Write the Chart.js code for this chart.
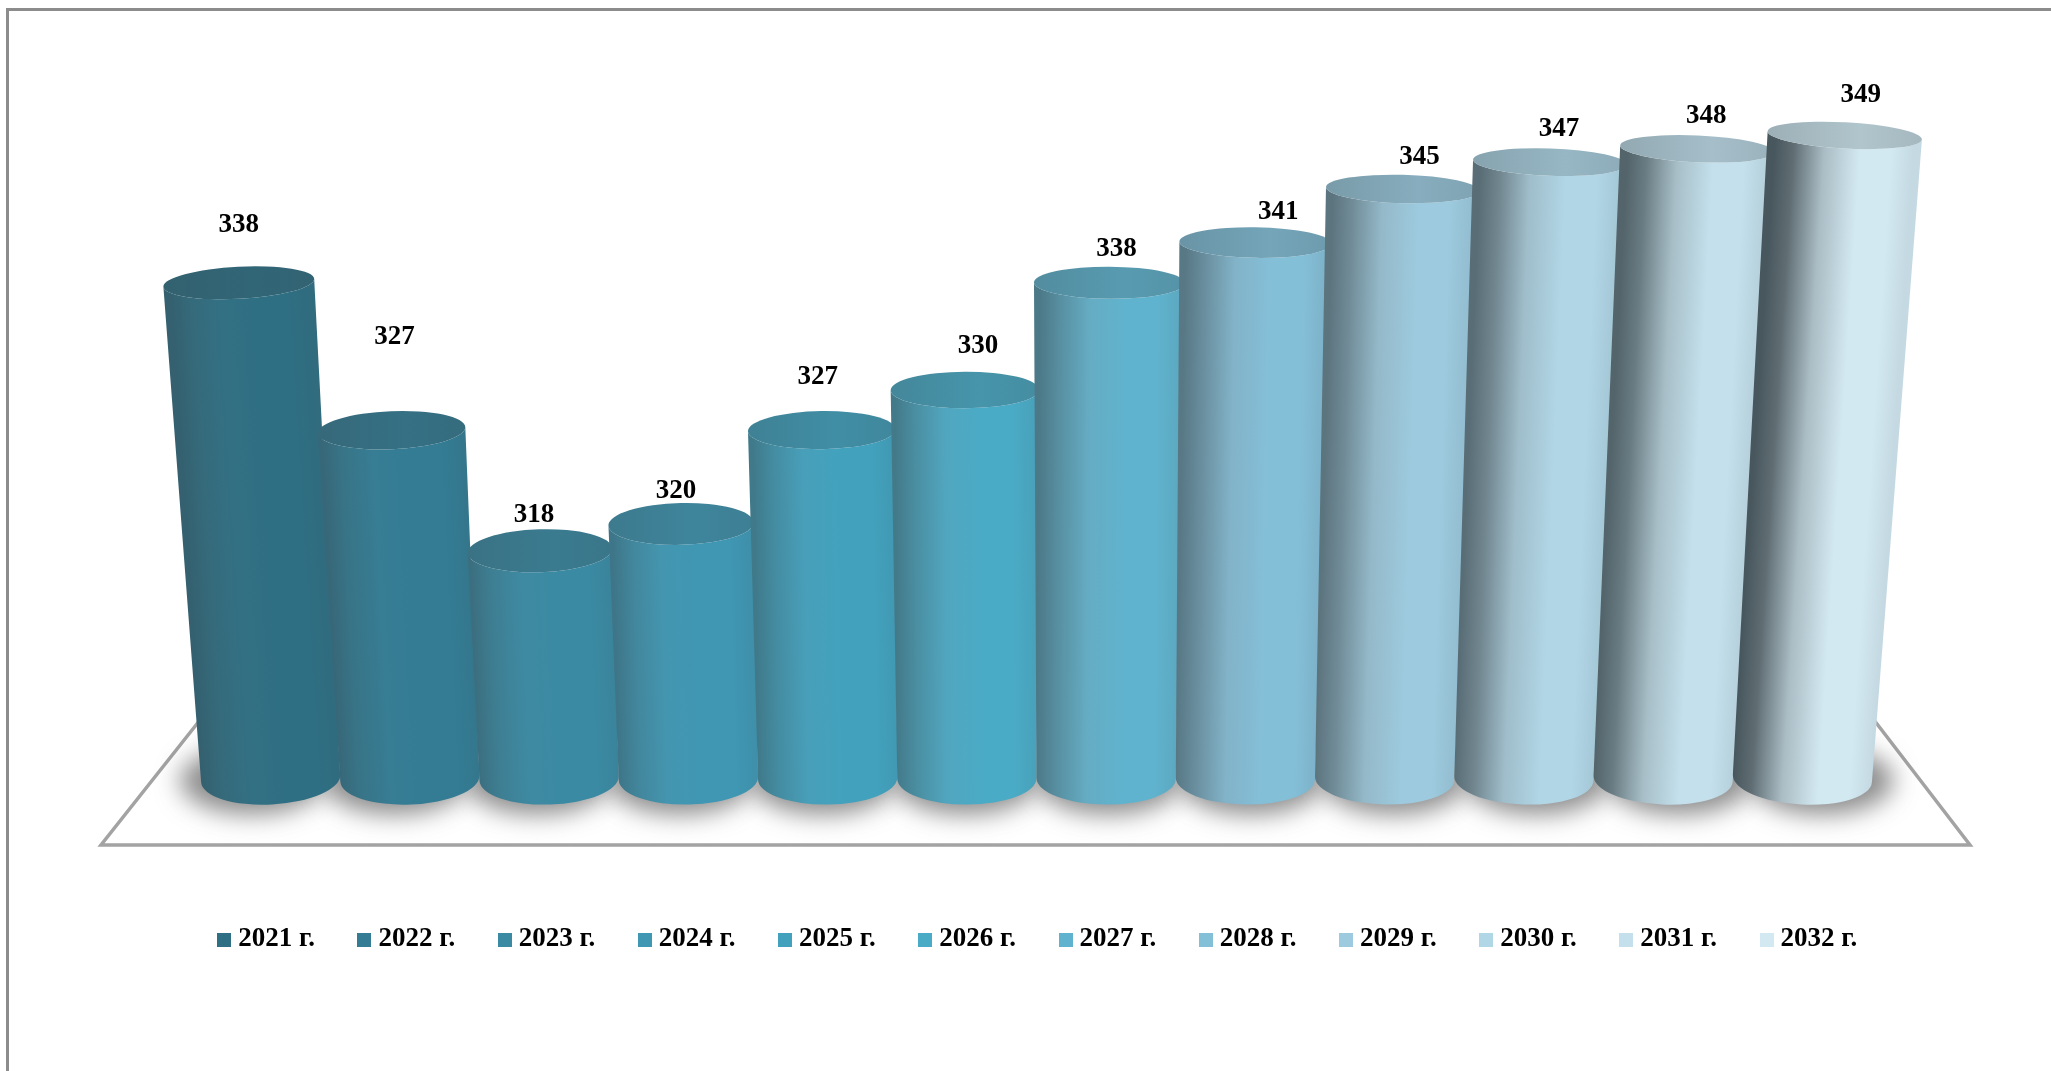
<!DOCTYPE html>
<html>
<head>
<meta charset="utf-8">
<title>2021-2032</title>
<script src="https://cdn.jsdelivr.net/npm/chart.js@4"></script>
<style>
	html, body { margin: 0; padding: 0; background: #fff; }
	#wrap { width: 2051px; height: 1071px; }
</style>
</head>
<body>
<div id="wrap"><canvas id="myChart"></canvas></div>
<script>
	var years = ["2021 г.", "2022 г.", "2023 г.", "2024 г.", "2025 г.", "2026 г.", "2027 г.", "2028 г.", "2029 г.", "2030 г.", "2031 г.", "2032 г."];
	var values = [338, 327, 318, 320, 327, 330, 338, 341, 345, 347, 348, 349];
	var barColors = ["#2f6f83", "#337c94", "#3a8aa3", "#3f97b3", "#42a2be", "#4aabc6", "#60b3ce", "#84bfd8", "#9dcade", "#b1d6e6", "#c3e0ec", "#d3e9f2"];
	// where each number sits relative to the top of its cylinder
	var labelShiftX = [0, 3, -6, -5, -4, 13, 7, 23, 17, 9, 9, 16];
	var labelShiftY = [-58, -93, -36, -33, -53, -44, -34, -31, -32, -33, -33, -40];

	var FONT = '"Liberation Serif", "Times New Roman", serif';
	var LEAN = 8.5e-5;    // how much the cylinders fan out with height
	var WIDEN = 1.7e-4;   // and how much wider they get towards the top
	var TILT = 0.052 / 760;

	function mix(hex, other, t) {
		var a = parseInt(hex.slice(1), 16), b = parseInt(other.slice(1), 16);
		var r = (a >> 16) + ((b >> 16) - (a >> 16)) * t;
		var g = ((a >> 8) & 255) + (((b >> 8) & 255) - ((a >> 8) & 255)) * t;
		var bl = (a & 255) + ((b & 255) - (a & 255)) * t;
		return "rgb(" + Math.round(r) + "," + Math.round(g) + "," + Math.round(bl) + ")";
	}

	function cylinder(bar, area) {
		var mid = (area.left + area.right) / 2 - 10;
		var h = bar.base - bar.y;
		var d = bar.x - mid;
		return {
			h: h,
			d: d,
			rot: d * TILT,
			x0: bar.x,
			x1: bar.x + d * h * LEAN,
			y0: bar.base,
			y1: bar.y,
			r0: bar.width / 2,
			r1: bar.width / 2 * (1 + WIDEN * h),
			ry0: 26,
			ry1: 26 - h * 0.02
		};
	}

	function drawCylinder(ctx, c, color, i) {
		// the lighter the bar the greyer its left side
		var t = i / (years.length - 1);
		t = t * t;
		var grad = ctx.createLinearGradient(c.x0 - c.r0, 0, c.x0 + c.r0, 0);
		grad.addColorStop(0, mix(color, "#3c4a50", 0.4 + 0.52 * t));
		grad.addColorStop(0.14, mix(color, "#4a575c", 0.22 + 0.62 * t));
		grad.addColorStop(0.36, mix(color, "#7c8a90", 0.05 + 0.42 * t));
		grad.addColorStop(0.62, color);
		grad.addColorStop(0.84, color);
		grad.addColorStop(1, mix(color, "#3c4a50", 0.1));

		ctx.save();
		ctx.beginPath();
		ctx.ellipse(c.x1, c.y1, c.r1, c.ry1, c.rot, Math.PI, 0, true);
		ctx.ellipse(c.x0, c.y0, c.r0, c.ry0, c.rot, 0, Math.PI, false);
		ctx.closePath();
		ctx.fillStyle = grad;
		// shear the gradient so the shading follows the lean of the bar
		var s = (c.x1 - c.x0) / (c.y1 - c.y0);
		ctx.save();
		ctx.transform(1, 0, s, 1, -s * c.y0, 0);
		ctx.fill();
		ctx.restore();

		ctx.beginPath();
		ctx.ellipse(c.x1, c.y1, c.r1, c.ry1, c.rot, 0, Math.PI * 2);
		var top = ctx.createLinearGradient(c.x1 - c.r1, 0, c.x1 + c.r1, 0);
		top.addColorStop(0, mix(color, "#3a474c", 0.36));
		top.addColorStop(0.6, mix(color, "#3a474c", 0.22));
		top.addColorStop(1, mix(color, "#3a474c", 0.3));
		ctx.fillStyle = top;
		ctx.fill();
		ctx.restore();
	}

	var cylinderPlugin = {
		id: "cylinders",
		beforeDatasetsDraw: function(chart) {
			var ctx = chart.ctx;
			var bars = chart.getDatasetMeta(0).data;
			ctx.save();
			// page frame, only top and left show in the picture
			ctx.strokeStyle = "#8c8c8c";
			ctx.lineWidth = 3;
			ctx.beginPath();
			ctx.moveTo(7.5, 1071);
			ctx.lineTo(7.5, 9.5);
			ctx.lineTo(2051, 9.5);
			ctx.stroke();
			// floor
			ctx.strokeStyle = "#a3a3a3";
			ctx.lineWidth = 3.5;
			ctx.lineJoin = "miter";
			ctx.beginPath();
			ctx.moveTo(200, 720);
			ctx.lineTo(101, 845);
			ctx.lineTo(1970, 845);
			ctx.lineTo(1874, 720);
			ctx.stroke();
			// soft shadows under the bars, the shape itself stays off the canvas
			ctx.fillStyle = "#000";
			ctx.shadowColor = "rgba(70,70,70,0.62)";
			ctx.shadowBlur = 24;
			ctx.shadowOffsetX = 4000;
			bars.forEach(function(bar) {
				var c = cylinder(bar, chart.chartArea);
				ctx.beginPath();
				ctx.ellipse(c.x0 + c.d * 0.025 - 4000, c.y0 + 2, c.r0 + 2, c.ry0 + 8, 0, 0, Math.PI * 2);
				ctx.fill();
			});
			ctx.restore();
		},
		afterDatasetsDraw: function(chart) {
			var ctx = chart.ctx;
			var bars = chart.getDatasetMeta(0).data;
			bars.forEach(function(bar, i) {
				drawCylinder(ctx, cylinder(bar, chart.chartArea), barColors[i], i);
			});
			ctx.save();
			ctx.fillStyle = "#000";
			ctx.font = "bold 27px " + FONT;
			ctx.textAlign = "center";
			ctx.textBaseline = "middle";
			bars.forEach(function(bar, i) {
				var c = cylinder(bar, chart.chartArea);
				ctx.fillText(values[i], c.x1 + labelShiftX[i], c.y1 + labelShiftY[i]);
			});
			ctx.restore();
		}
	};

	// small square markers for the legend
	function swatch(color) {
		var c = document.createElement("canvas");
		c.width = 14;
		c.height = 14;
		var g = c.getContext("2d");
		g.fillStyle = color;
		g.fillRect(0, 0, 14, 14);
		return c;
	}

	function blankAxis(extra) {
		return Object.assign({
			display: true,
			ticks: { display: false },
			grid: { display: false },
			border: { display: false }
		}, extra);
	}

	var ctx = document.getElementById("myChart");
	var myChart = new Chart(ctx, {
		type: "bar",
		data: {
			labels: years,
			datasets: [{
				data: values,
				xAxisID: "x",
				yAxisID: "y",
				base: 301,
				backgroundColor: "rgba(0,0,0,0)",
				barPercentage: 1,
				categoryPercentage: 1
			}]
		},
		options: {
			responsive: true,
			maintainAspectRatio: false,
			animation: false,
			devicePixelRatio: 1,
			layout: { padding: { left: 30, right: 0, top: 55, bottom: 108 } },
			plugins: {
				tooltip: { enabled: false },
				legend: {
					position: "bottom",
					labels: {
						usePointStyle: true,
						pointStyleWidth: 1,
						padding: 49,
						color: "#000",
						font: { family: FONT, size: 27, weight: "bold" },
						generateLabels: function() {
							return years.map(function(y, i) {
								return { text: y, pointStyle: swatch(barColors[i]), hidden: false, index: i, fontColor: "#000", lineWidth: 0, strokeStyle: "rgba(0,0,0,0)" };
							});
						}
					}
				}
			},
			scales: {
				x: blankAxis({ afterFit: function(s) { s.height = 98.5; } }),
				y: blankAxis({ min: 301, max: 355, afterFit: function(s) { s.width = 171; } }),
				pad: blankAxis({ type: "linear", position: "right", afterFit: function(s) { s.width = 179; } })
			}
		},
		plugins: [cylinderPlugin]
	});
</script>
</body>
</html>
